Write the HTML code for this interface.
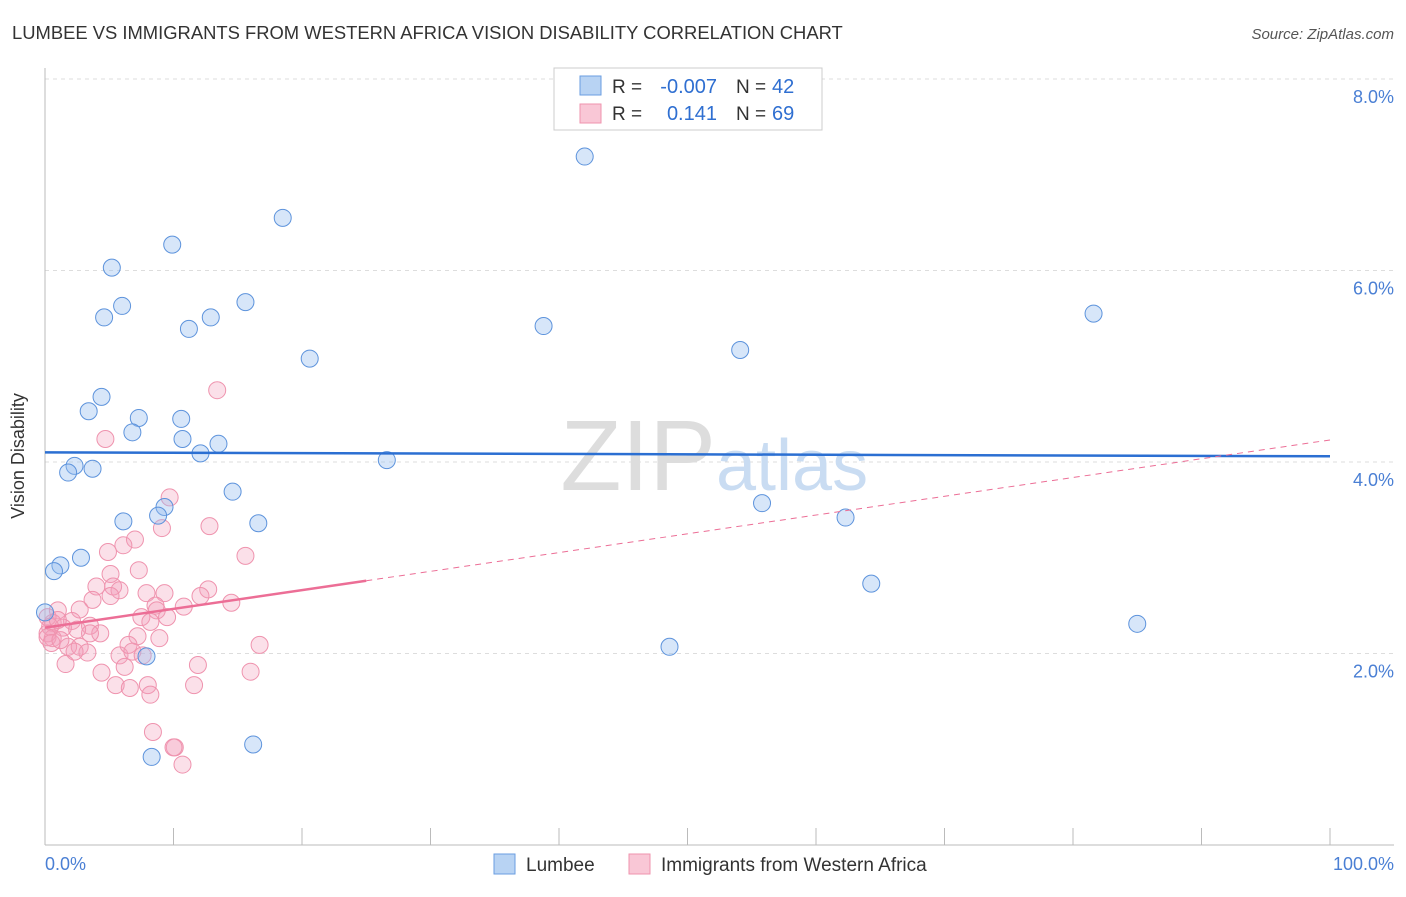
<!DOCTYPE html>
<html><head><meta charset="utf-8"><style>
body{margin:0;background:#fff;font-family:"Liberation Sans",sans-serif;}
svg text{font-family:"Liberation Sans",sans-serif;}
</style></head><body>
<svg width="1406" height="892" viewBox="0 0 1406 892" xmlns="http://www.w3.org/2000/svg">
<text x="12" y="39" font-size="18.4" fill="#333">LUMBEE VS IMMIGRANTS FROM WESTERN AFRICA VISION DISABILITY CORRELATION CHART</text>
<text x="1394" y="39" font-size="15" fill="#555" font-style="italic" text-anchor="end">Source: ZipAtlas.com</text>
<g id="grid"></g>
<text x="716" y="490" font-size="100" font-family="Liberation Serif" fill="#ddd" text-anchor="end">ZIP</text>
<text x="716" y="490" font-size="72" fill="#c9dcf2">atlas</text>
<line x1="45" y1="68" x2="45" y2="845" stroke="#bbb"/>
<line x1="45" y1="845" x2="1394" y2="845" stroke="#bbb"/>
<g id="ticks"></g>
<text x="24" y="456" font-size="18" fill="#333" text-anchor="middle" transform="rotate(-90 24 456)">Vision Disability</text>
<text x="45" y="870" font-size="18" fill="#4a7fd4">0.0%</text>
<text x="1394" y="870" font-size="18" fill="#4a7fd4" text-anchor="end">100.0%</text>
<g id="pts"></g>
<g id="trends"></g>
<g>
<rect x="554" y="68" width="268" height="62" fill="#fff" stroke="#ccc"/>
<rect x="580" y="76" width="21" height="19" fill="#b8d3f3" stroke="#6a9ee0"/>
<rect x="580" y="104" width="21" height="19" fill="#f9c7d6" stroke="#ef93ae"/>
<text x="612" y="93" font-size="19" fill="#333">R =</text>
<text x="717" y="93" font-size="20" fill="#2f6fd1" text-anchor="end">-0.007</text>
<text x="736" y="93" font-size="19" fill="#333">N =</text>
<text x="772" y="93" font-size="20" fill="#2f6fd1">42</text>
<text x="612" y="120" font-size="19" fill="#333">R =</text>
<text x="717" y="120" font-size="20" fill="#2f6fd1" text-anchor="end">0.141</text>
<text x="736" y="120" font-size="19" fill="#333">N =</text>
<text x="772" y="120" font-size="20" fill="#2f6fd1">69</text>
</g>
<g>
<rect x="494" y="854" width="21" height="20" fill="#b8d3f3" stroke="#6a9ee0"/>
<text x="526" y="871" font-size="19" fill="#333">Lumbee</text>
<rect x="629" y="854" width="21" height="20" fill="#f9c7d6" stroke="#ef93ae"/>
<text x="661" y="871" font-size="19" fill="#333">Immigrants from Western Africa</text>
</g>
</svg>
<script>
const lumbeeX=[42.0,18.5,9.9,5.2,6.0,4.6,15.6,12.9,11.2,38.8,81.6,20.6,54.1,4.4,3.4,7.3,10.6,6.8,10.7,13.5,12.1,26.6,2.3,3.7,1.8,14.6,9.3,8.8,6.1,16.6,55.8,62.3,2.8,1.2,0.7,64.3,0.0,85.0,48.6,7.9,16.2,8.3];
const lumbeeY=[7.19,6.55,6.27,6.03,5.63,5.51,5.67,5.51,5.39,5.42,5.55,5.08,5.17,4.68,4.53,4.46,4.45,4.31,4.24,4.19,4.09,4.02,3.96,3.93,3.89,3.69,3.53,3.44,3.38,3.36,3.57,3.42,3.00,2.92,2.86,2.73,2.43,2.31,2.07,1.97,1.05,0.92];
const waX=[13.4,4.7,9.7,9.1,12.8,7.0,6.1,4.9,15.6,7.3,5.1,4.0,5.3,5.8,7.9,9.3,3.7,5.1,12.7,12.1,14.5,8.6,8.7,10.8,2.7,1.0,7.5,9.5,2.1,3.5,4.3,0.6,1.4,0.2,0.6,7.2,8.9,16.7,1.8,2.7,3.3,2.3,5.8,6.5,6.8,7.6,1.6,11.9,6.2,16.0,4.4,5.5,6.6,8.0,8.2,11.6,8.4,10.1,10.0,10.7,0.2,0.4,0.2,0.5,1.2,3.5,8.2,1.0,2.5];
const waY=[4.75,4.24,3.63,3.31,3.33,3.19,3.13,3.06,3.02,2.87,2.83,2.70,2.70,2.66,2.63,2.63,2.56,2.60,2.67,2.60,2.53,2.50,2.45,2.49,2.46,2.45,2.38,2.38,2.34,2.29,2.21,2.32,2.27,2.21,2.16,2.18,2.16,2.09,2.07,2.07,2.01,2.02,1.98,2.09,2.02,1.98,1.89,1.88,1.86,1.81,1.80,1.67,1.64,1.67,1.57,1.67,1.18,1.02,1.02,0.84,2.38,2.28,2.17,2.11,2.14,2.21,2.33,2.35,2.25];
const yTicks=[2,4,6,8];
const yTickLabels=["2.0%","4.0%","6.0%","8.0%"];
const xTicks=[0,10,20,30,40,50,60,70,80,90,100];
const lumbeeTrend=[4.10,4.06];
const waTrend=[2.27,4.23];
const waSolidEnd=25;
const NS="http://www.w3.org/2000/svg";
const sx=v=>45+v*12.85, sy=v=>845-v*95.75;
function mk(tag,attrs,parent){const e=document.createElementNS(NS,tag);for(const k in attrs)e.setAttribute(k,attrs[k]);parent.appendChild(e);return e;}
const grid=document.getElementById('grid');
yTicks.forEach((t,i)=>{
 const l=mk('line',{x1:45,x2:1394,y1:sy(t),y2:sy(t),stroke:'#ddd','stroke-dasharray':'4 4'},grid);
 
 
 const tx=mk('text',{x:1394,y:sy(t)+24,'font-size':18,fill:'#4a7fd4','text-anchor':'end'},grid);
 tx.textContent=yTickLabels[i];
 
 
});
const tk=document.getElementById('ticks');
xTicks.forEach(t=>{
 const l=mk('line',{x1:sx(t),x2:sx(t),y1:828,y2:845,stroke:'#bbb'},tk);
 
 
});
const pts=document.getElementById('pts');
waX.forEach((x,i)=>{
 const c=mk('circle',{cx:sx(x),cy:sy(waY[i]),r:8.5,fill:'rgba(244,160,188,0.32)',stroke:'#ef93ae','stroke-width':1},pts);
 
 
});
lumbeeX.forEach((x,i)=>{
 const c=mk('circle',{cx:sx(x),cy:sy(lumbeeY[i]),r:8.5,fill:'rgba(150,190,240,0.38)',stroke:'#5d93dc','stroke-width':1},pts);
 
 
});
const tr=document.getElementById('trends');
const lt=mk('line',{x1:sx(0),x2:sx(100),y1:sy(lumbeeTrend[0]),y2:sy(lumbeeTrend[1]),stroke:'#2b6fd2','stroke-width':2.5},tr);


const wf=v=>waTrend[0]+(waTrend[1]-waTrend[0])*v/100;
const wd=mk('line',{x1:sx(waSolidEnd),x2:sx(100),y1:sy(wf(waSolidEnd)),y2:sy(wf(100)),stroke:'#ec6e96','stroke-width':1,'stroke-dasharray':'6 5'},tr);


const ws=mk('line',{x1:sx(0),x2:sx(waSolidEnd),y1:sy(wf(0)),y2:sy(wf(waSolidEnd)),stroke:'#ec6e96','stroke-width':2.5},tr);


</script>
</body></html>
